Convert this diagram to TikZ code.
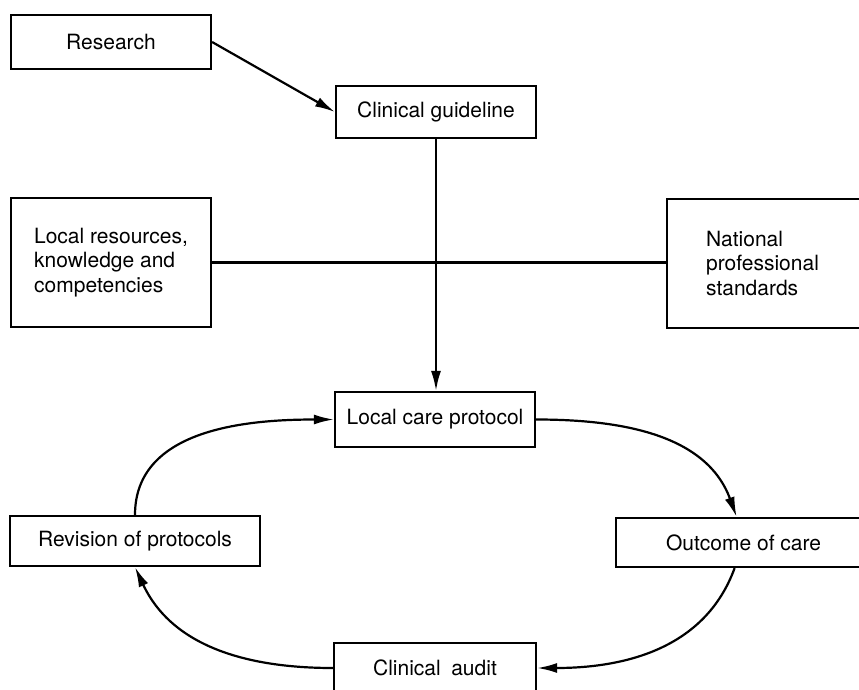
\documentclass[tikz,border=0pt]{standalone}
\usepackage{fontspec}
\setmainfont{TeX Gyre Heros}
\usetikzlibrary{arrows.meta}
\begin{document}
\begin{tikzpicture}[x=1pt,y=1pt,
  box/.style={draw, line width=2.2pt, inner sep=0pt, font=\fontsize{21}{24.5}\selectfont, align=center},
  conn/.style={line width=2.2pt},
  arr/.style={conn, -{Latex[length=20pt,width=10pt]}}]
\useasboundingbox (0,0) rectangle (859,-690);
\node[box, minimum width=200pt, minimum height=54pt] (research) at (111,-42) {Research};
\node[box, minimum width=200pt, minimum height=52pt] (guideline) at (436,-112) {Clinical guideline};
\node[box, minimum width=200pt, minimum height=129pt, align=left] (local) at (111,-262.5) {Local resources,\\knowledge and\\competencies};
\node[box, anchor=west, text width=150pt, inner xsep=39pt, minimum height=129pt, align=left] (national) at (666,-263.5) {National\\professional\\standards};
\node[box, minimum width=200pt, minimum height=55pt] (lcp) at (435,-419.5) {Local care protocol};
\node[box, minimum width=250pt, minimum height=50pt] (revision) at (135,-541) {Revision of protocols};
\node[box, anchor=west, minimum width=255pt, minimum height=49pt] (outcome) at (615,-542.5) {Outcome of care};
\node[box, minimum width=202pt, minimum height=50pt] (audit) at (435,-668) {Clinical\hspace{0.5em}audit};

\draw[arr] (research.east) -- (guideline.west);
\draw[arr] (guideline.south) -- (guideline.south |- lcp.north);
\draw[conn] (local.east) -- (local.east -| national.west);
\draw[arr] (revision.north) to[out=90,in=180] (lcp.west);
\draw[arr] (lcp.east) to[out=0,in=110] ([xshift=-7pt]outcome.north);
\draw[arr] ([xshift=-9pt]outcome.south) to[out=-110,in=0] (audit.east);
\draw[arr] (audit.west) to[out=180,in=-65] (revision.south);
\end{tikzpicture}
\end{document}
